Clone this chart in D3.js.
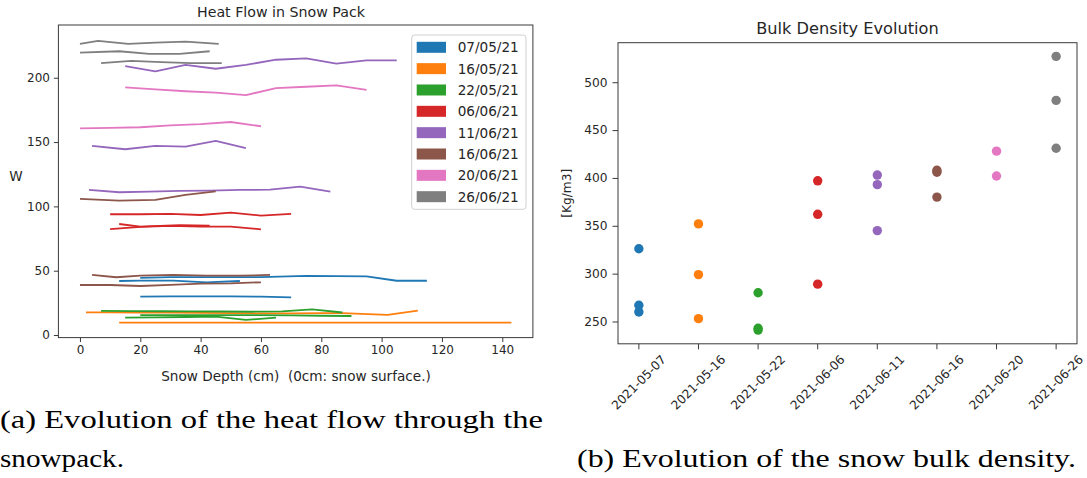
<!DOCTYPE html>
<html>
<head>
<meta charset="utf-8">
<script src="https://cdn.jsdelivr.net/npm/d3@7"></script>
<style>
  html, body { margin: 0; padding: 0; background: #fff; }
  svg { display: block; }
  text { font-family: "DejaVu Sans", sans-serif; fill: #262626; }
  .cap { font-family: "Liberation Serif", "DejaVu Serif", serif; fill: #000; }
</style>
</head>
<body>
<svg id="chart" width="1087" height="478"></svg>
<script>
// ---------------- DATA ----------------
// Left panel: heat flow lines (each line = one measurement profile)
const heatDates = ["07/05/21", "16/05/21", "22/05/21", "06/06/21", "11/06/21", "16/06/21", "20/06/21", "26/06/21"];
const heatXTicks = [0, 20, 40, 60, 80, 100, 120, 140];
const heatYTicks = [0, 50, 100, 150, 200];

// index of the date (series) for each profile line
const lineSeries = [0, 0, 0, 1, 1, 2, 2, 2, 3, 3, 3, 4, 4, 4, 5, 5, 5, 6, 6, 7, 7, 7];
// snow depth (cm) of each profile point
const lineDepth = [
  [20, 30, 40, 50, 60, 75, 95, 105, 115],
  [13, 20, 31, 42, 53],
  [20, 30, 40, 50, 60, 70],
  [13, 23, 33, 43, 53, 63, 73, 83, 93, 103, 113, 123, 133, 143],
  [2, 10, 20, 30, 40, 50, 60, 70, 80, 87, 102, 112],
  [7, 17, 27, 37, 47, 57, 67, 77, 87],
  [20, 30, 40, 50, 60, 70, 80, 90],
  [15, 25, 35, 45, 55, 65],
  [10, 20, 30, 40, 50, 60, 70],
  [10, 20, 30, 40, 50, 60],
  [13, 20, 33, 43],
  [15, 25, 35, 45, 55, 65, 75, 85, 95, 105],
  [4, 15, 25, 35, 45, 55],
  [3, 13, 23, 33, 43, 53, 63, 73, 83],
  [0, 13, 25, 35, 45],
  [4, 12, 20, 31, 42, 53, 63],
  [0, 10, 20, 30, 40, 50, 60],
  [15, 25, 35, 45, 55, 65, 75, 85, 95],
  [0, 10, 20, 30, 40, 50, 60],
  [0, 6, 16, 25, 35, 46],
  [0, 13, 23, 33, 43],
  [7, 17, 27, 37, 47]
];
// heat flow (W) of each profile point
const lineFlux = [
  [44.5, 45, 45, 45, 45, 46, 45.6, 42.2, 42.2],
  [42, 42.3, 42.3, 41, 42],
  [29.8, 30, 30.1, 30.1, 29.8, 29.3],
  [9.6, 9.6, 9.6, 9.6, 9.6, 9.6, 9.6, 9.6, 9.6, 9.6, 9.6, 9.6, 9.6, 9.6],
  [17.6, 17.6, 17.5, 17.4, 17.2, 17, 16.8, 16.8, 17, 17.1, 15.6, 18.9],
  [18.7, 18.6, 18.5, 18.4, 18.3, 18.1, 18.4, 20, 17.5],
  [15.5, 15.5, 15.5, 15.4, 15.4, 15.3, 15, 14.8],
  [13.5, 13.8, 14, 14.3, 11.7, 13.5],
  [93.9, 93.9, 94.1, 93.3, 95.1, 92.8, 94.1],
  [82.4, 84, 84.8, 84.2, 84.2, 82.2],
  [86.3, 84.2, 85.5, 85],
  [209, 205, 210, 207, 210, 214, 215, 211, 213.5, 213.5],
  [147, 144.4, 147, 146.4, 150.9, 145.2],
  [112.8, 111, 111.4, 112, 112.2, 112.8, 113, 115.3, 111.4],
  [105.8, 104.4, 105, 108.9, 111.7],
  [46.7, 44.9, 46.1, 46.7, 46.1, 46.1, 46.7],
  [38.9, 38.9, 38.1, 39, 40, 40.2, 41],
  [192.5, 191, 189.5, 188.5, 186.5, 192, 193, 194, 190.5],
  [160.7, 161, 161.5, 163, 164, 165.6, 162.3],
  [226.3, 228.6, 226.3, 227.3, 228.1, 226.3],
  [219.5, 220.6, 218.5, 218.5, 220.6],
  [211.3, 213.1, 212.1, 211.3, 211.3]
];

// Right panel: bulk density
const densityDates = ["2021-05-07", "2021-05-16", "2021-05-22", "2021-06-06", "2021-06-11", "2021-06-16", "2021-06-20", "2021-06-26"];
const densityValues = [
  [326, 267, 260],
  [352, 299, 253],
  [280, 243, 241],
  [397, 362, 289],
  [403, 393, 345],
  [408, 406, 380],
  [428, 402],
  [527, 481, 431]
];
const densityYTicks = [250, 300, 350, 400, 450, 500];

// ---------------- STYLE ----------------
const palette = ["#1f77b4", "#ff7f0e", "#2ca02c", "#d62728", "#9467bd", "#8c564b", "#e377c2", "#7f7f7f"];
const spineColor = "#3a3a3a";

const svg = d3.select("#chart");

// ================= LEFT PANEL =================
const L = { x0: 58.4, x1: 532.9, y0: 25, y1: 337.6 };
const xL = d3.scaleLinear().domain([-7.15, 150.15]).range([L.x0, L.x1]);
const yL = d3.scaleLinear().domain([-2, 241]).range([L.y1, L.y0]);

const gL = svg.append("g");
const line = d3.line().x(d => xL(d[0])).y(d => yL(d[1]));

lineDepth.forEach((dep, i) => {
  const pts = dep.map((d, j) => [d, lineFlux[i][j]]);
  gL.append("path")
    .attr("d", line(pts))
    .attr("fill", "none")
    .attr("stroke", palette[lineSeries[i]])
    .attr("stroke-width", 1.8)
    .attr("stroke-linejoin", "round")
    .attr("stroke-linecap", "butt");
});

// axes
const axLB = gL.append("g").attr("transform", `translate(0,${L.y1})`)
  .call(d3.axisBottom(xL).tickValues(heatXTicks).tickSize(4.5).tickPadding(3));
const axLL = gL.append("g").attr("transform", `translate(${L.x0},0)`)
  .call(d3.axisLeft(yL).tickValues(heatYTicks).tickSize(4.5).tickPadding(4));
[axLB, axLL].forEach(a => {
  a.select(".domain").remove();
  a.selectAll(".tick line").attr("stroke", spineColor).attr("stroke-width", 1);
  a.selectAll(".tick text").attr("font-size", 12).attr("font-family", "DejaVu Sans").attr("fill", "#262626");
});
gL.append("rect").attr("x", L.x0).attr("y", L.y0).attr("width", L.x1 - L.x0).attr("height", L.y1 - L.y0)
  .attr("fill", "none").attr("stroke", spineColor).attr("stroke-width", 1);

gL.append("text").attr("x", 281).attr("y", 17).attr("text-anchor", "middle")
  .attr("font-size", 14.2).text("Heat Flow in Snow Pack");
gL.append("text").attr("x", 296).attr("y", 381).attr("text-anchor", "middle")
  .attr("font-size", 13.6).attr("xml:space", "preserve").text("Snow Depth (cm)  (0cm: snow surface.)");
gL.append("text").attr("x", 16).attr("y", 181).attr("text-anchor", "middle")
  .attr("font-size", 13.6).text("W");

// legend
const leg = gL.append("g");
leg.append("rect").attr("x", 411.7).attr("y", 35).attr("width", 114.3).attr("height", 174.3)
  .attr("rx", 3).attr("fill", "#fff").attr("fill-opacity", 0.8).attr("stroke", "#d0d0d0").attr("stroke-width", 1);
heatDates.forEach((d, i) => {
  const cy = 47.3 + i * 21.34;
  leg.append("rect").attr("x", 416.7).attr("y", cy - 5.5).attr("width", 29.3).attr("height", 11)
    .attr("fill", palette[i]);
  leg.append("text").attr("x", 457.7).attr("y", cy).attr("dy", "0.36em")
    .attr("font-size", 13.6).text(d);
});

// ================= RIGHT PANEL =================
const R = { x0: 618, x1: 1077, y0: 42.7, y1: 343.8 };
const xR = d3.scalePoint().domain(densityDates).range([0, 7]);
const xRpx = d3.scaleLinear().domain([-0.35, 7.35]).range([R.x0, R.x1]);
const yR = d3.scaleLinear().domain([226.7, 541.3]).range([R.y1, R.y0]);

const gR = svg.append("g");
densityDates.forEach((dt, i) => {
  densityValues[i].forEach(v => {
    gR.append("circle").attr("cx", xRpx(xR(dt))).attr("cy", yR(v)).attr("r", 4.7)
      .attr("fill", palette[i]);
  });
});

const axRL = gR.append("g").attr("transform", `translate(${R.x0},0)`)
  .call(d3.axisLeft(yR).tickValues(densityYTicks).tickSize(5.5).tickPadding(5));
axRL.select(".domain").remove();
axRL.selectAll(".tick line").attr("stroke", spineColor);
axRL.selectAll(".tick text").attr("font-size", 12.2).attr("font-family", "DejaVu Sans").attr("fill", "#262626");

// bottom ticks + rotated labels
const tickG = gR.append("g");
densityDates.forEach(dt => {
  const x = xRpx(xR(dt));
  tickG.append("line").attr("x1", x).attr("x2", x).attr("y1", R.y1).attr("y2", R.y1 + 5.5)
    .attr("stroke", spineColor);
  const t = tickG.append("text").attr("font-size", 12.2).attr("text-anchor", "middle")
    .attr("dominant-baseline", "central").text(dt);
  const w = t.node().getComputedTextLength();
  const h = 12.2 * 1.1;
  const half = (w + h) * Math.SQRT1_2 / 2;
  t.attr("transform", `translate(${x},${R.y1 + 9 + half}) rotate(-45)`);
});

gR.append("rect").attr("x", R.x0).attr("y", R.y0).attr("width", R.x1 - R.x0).attr("height", R.y1 - R.y0)
  .attr("fill", "none").attr("stroke", spineColor).attr("stroke-width", 1);

gR.append("text").attr("x", (R.x0 + R.x1) / 2).attr("y", 34).attr("text-anchor", "middle")
  .attr("font-size", 16.2).text("Bulk Density Evolution");
gR.append("text").attr("transform", `translate(567,${(R.y0 + R.y1) / 2}) rotate(-90)`)
  .attr("text-anchor", "middle").attr("dy", "0.36em").attr("font-size", 12.2).text("[Kg/m3]");

// ================= CAPTIONS =================
svg.append("text").attr("class", "cap").attr("x", 0).attr("y", 428).attr("font-size", 25)
  .attr("textLength", 543).attr("lengthAdjust", "spacingAndGlyphs")
  .text("(a) Evolution of the heat flow through the");
svg.append("text").attr("class", "cap").attr("x", 0).attr("y", 467).attr("font-size", 25)
  .attr("textLength", 124).attr("lengthAdjust", "spacingAndGlyphs")
  .text("snowpack.");
svg.append("text").attr("class", "cap").attr("x", 577).attr("y", 467).attr("font-size", 25)
  .attr("textLength", 499).attr("lengthAdjust", "spacingAndGlyphs")
  .text("(b) Evolution of the snow bulk density.");
</script>
</body>
</html>
